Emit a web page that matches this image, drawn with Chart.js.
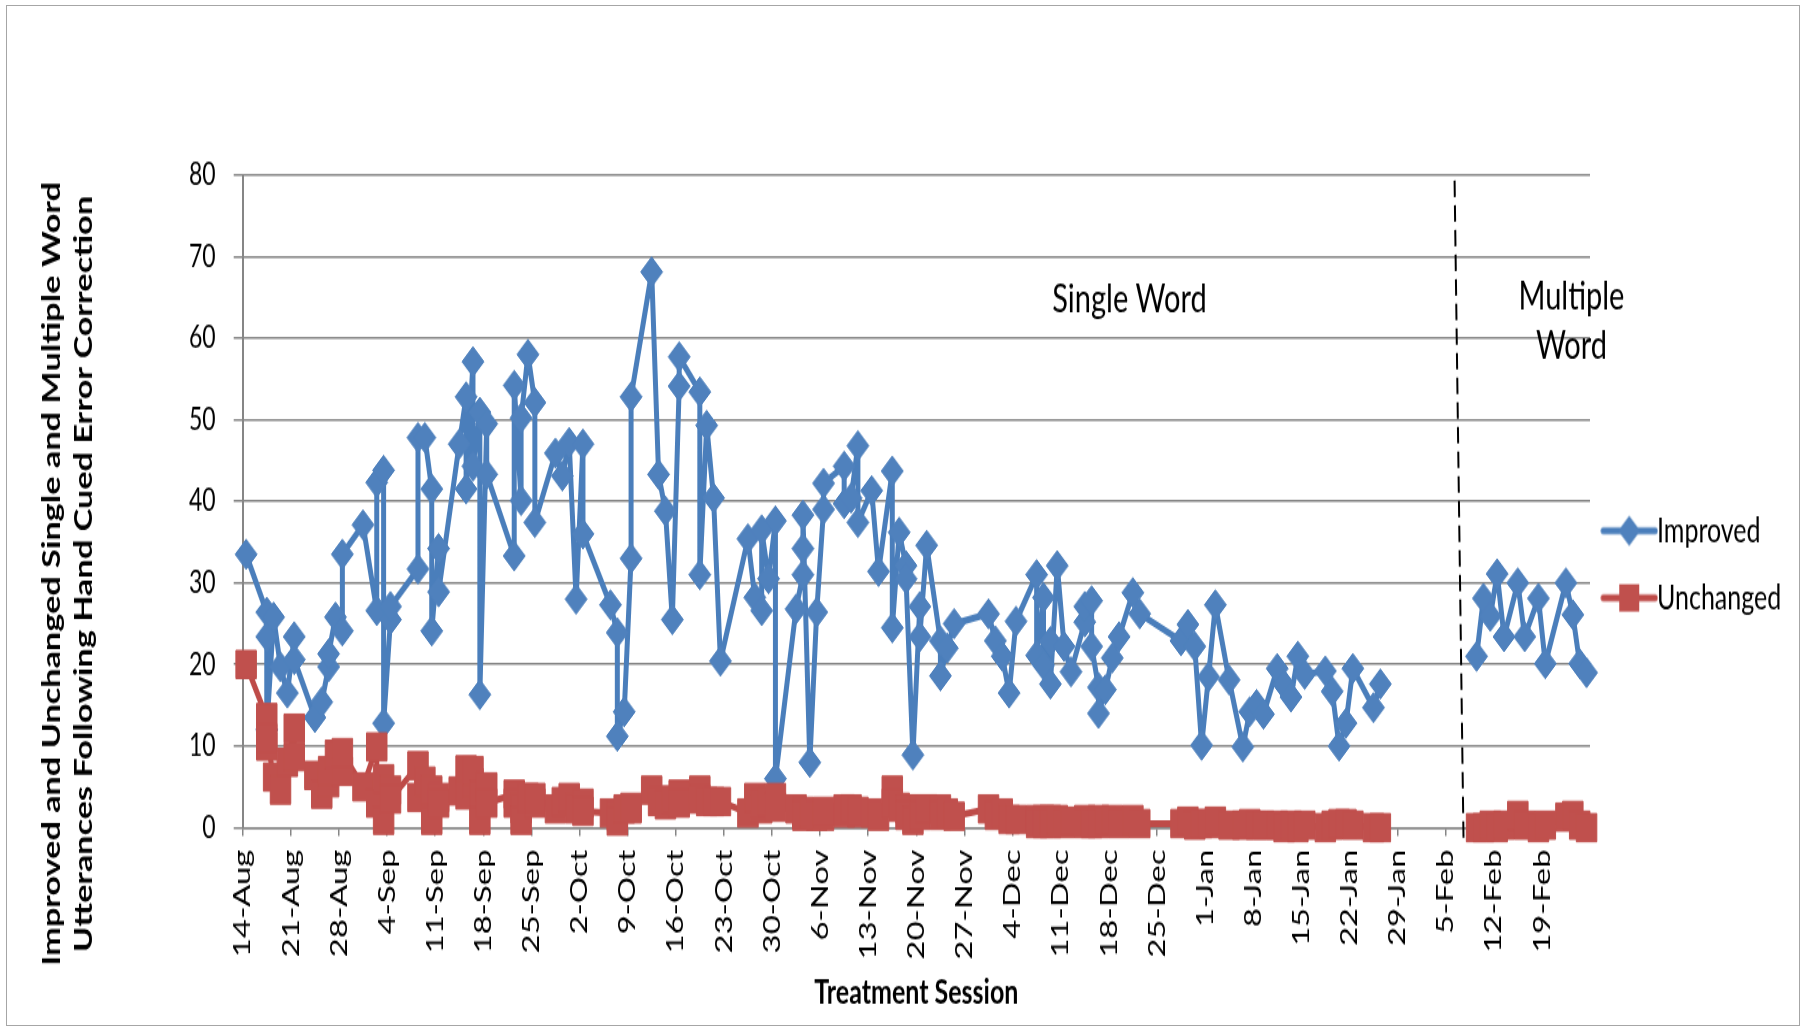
<!DOCTYPE html>
<html><head><meta charset="utf-8">
<script src="https://cdn.jsdelivr.net/npm/chart.js"></script>
<style>
html,body{margin:0;padding:0;background:#fff;}
body{width:1806px;height:1027px;overflow:hidden;position:relative;}
#stretch{position:absolute;left:0;top:0;width:1806px;height:750px;transform:scaleY(1.369333);transform-origin:0 0;}
#frame{position:absolute;left:6px;top:5px;width:1794px;height:1021px;border:1px solid #a6a6a6;box-sizing:border-box;pointer-events:none;}
canvas{display:block;}
</style></head><body>
<div id="stretch"><canvas id="c" width="1806" height="750"></canvas></div>
<div id="frame"></div>
<script>
// ---------------- data ----------------
const sessionDates = [
'14-Aug','17-Aug','17-Aug','17-Aug','18-Aug','19-Aug','20-Aug','21-Aug','21-Aug','24-Aug',
'25-Aug','26-Aug','26-Aug','27-Aug','28-Aug','28-Aug','31-Aug','2-Sep','2-Sep','3-Sep',
'3-Sep','4-Sep','4-Sep','8-Sep','8-Sep','9-Sep','10-Sep','10-Sep','11-Sep','11-Sep',
'14-Sep','15-Sep','15-Sep','16-Sep','16-Sep','17-Sep','17-Sep','18-Sep','18-Sep','22-Sep',
'22-Sep','23-Sep','23-Sep','24-Sep','25-Sep','25-Sep','28-Sep','29-Sep','30-Sep','1-Oct',
'2-Oct','2-Oct','6-Oct','7-Oct','7-Oct','8-Oct','9-Oct','9-Oct','12-Oct','13-Oct',
'14-Oct','15-Oct','16-Oct','16-Oct','19-Oct','19-Oct','20-Oct','21-Oct','22-Oct','26-Oct',
'27-Oct','28-Oct','28-Oct','29-Oct','30-Oct','30-Oct','2-Nov','3-Nov','3-Nov','3-Nov',
'4-Nov','5-Nov','6-Nov','6-Nov','9-Nov','9-Nov','10-Nov','11-Nov','11-Nov','13-Nov',
'14-Nov','16-Nov','16-Nov','17-Nov','18-Nov','18-Nov','19-Nov','20-Nov','20-Nov','21-Nov',
'23-Nov','23-Nov','24-Nov','25-Nov','30-Nov','1-Dec','2-Dec','3-Dec','4-Dec','7-Dec',
'7-Dec','8-Dec','8-Dec','9-Dec','9-Dec','10-Dec','11-Dec','12-Dec','14-Dec','14-Dec',
'15-Dec','15-Dec','16-Dec','16-Dec','17-Dec','18-Dec','19-Dec','21-Dec','22-Dec','28-Dec',
'29-Dec','30-Dec','31-Dec','1-Jan','2-Jan','4-Jan','6-Jan','7-Jan','8-Jan','9-Jan',
'11-Jan','12-Jan','13-Jan','14-Jan','15-Jan','18-Jan','19-Jan','20-Jan','21-Jan','22-Jan',
'25-Jan','26-Jan',
'9-Feb','10-Feb','11-Feb','12-Feb','13-Feb','15-Feb','16-Feb','18-Feb','19-Feb','22-Feb',
'23-Feb','24-Feb','25-Feb'
];
const improved = [
33.5,26.4,23.4,12.0,25.8,19.7,16.5,23.4,20.6,13.5,
15.4,19.7,21.3,25.8,24.1,33.5,37.1,26.6,42.3,43.8,
12.8,25.5,27.1,31.7,47.8,47.8,41.5,24.1,34.2,28.9,
47.0,52.8,41.5,57.1,44.3,50.9,16.3,49.5,43.3,33.3,
54.2,40.1,50.2,58.0,52.1,37.4,45.9,43.1,47.2,28.0,
47.0,36.0,27.3,23.9,11.2,14.2,33.0,52.8,68.1,43.3,
38.8,25.5,54.1,57.7,53.4,31.0,49.3,40.4,20.4,35.4,
28.2,26.6,36.5,30.5,37.6,6.0,26.8,31.0,34.2,38.3,
8.0,26.4,39.0,42.2,44.3,39.7,40.4,46.8,37.4,41.3,
31.4,43.7,24.5,36.2,32.1,30.5,8.9,27.1,23.4,34.6,
22.9,18.6,22.0,25.0,26.2,22.9,21.0,16.5,25.3,31.0,
21.1,28.2,19.9,22.8,17.6,32.1,22.2,19.1,25.2,27.1,
27.8,22.2,17.2,14.0,16.9,20.8,23.4,28.8,26.2,22.9,
24.9,22.2,10.1,18.5,27.3,18.1,9.9,14.2,15.1,13.9,
19.5,17.5,16.0,21.0,18.8,19.2,16.7,10.0,12.8,19.5,
14.7,17.6,
21.0,28.1,25.9,31.1,23.4,30.0,23.4,28.1,20.1,30.0,
26.1,20.1,19.0
];
const unchanged = [
20.0,13.5,10.0,11.0,6.2,4.6,8.0,12.2,8.7,6.4,
4.1,5.5,7.0,9.0,6.9,9.2,5.0,9.9,3.0,6.0,
0.9,4.6,3.5,7.6,3.7,5.7,4.6,0.9,3.7,3.0,
4.5,7.1,4.0,5.5,7.0,4.1,0.9,5.0,3.0,4.1,
3.0,2.3,0.9,3.7,3.0,3.7,2.3,3.2,3.7,2.3,
3.0,2.0,1.8,1.4,0.8,2.3,2.3,2.5,4.6,3.2,
2.8,3.4,4.1,3.0,4.6,3.5,3.2,3.2,3.2,1.8,
3.7,2.3,3.0,3.2,3.7,2.5,2.3,1.4,2.0,1.5,
1.8,1.4,1.4,2.0,2.3,1.8,2.3,1.8,2.0,1.8,
1.4,4.6,3.0,2.5,2.3,1.5,0.9,2.3,1.5,2.3,
2.3,1.5,1.8,1.4,2.3,1.5,1.8,1.0,1.0,1.0,
0.5,1.0,0.5,1.0,0.5,1.0,0.5,0.8,1.0,0.5,
0.8,0.5,1.0,0.5,0.8,1.0,0.5,1.0,0.5,0.5,
0.8,0.3,0.5,0.5,0.8,0.3,0.3,0.5,0.3,0.3,
0.3,0.0,0.3,0.0,0.3,0.0,0.3,0.5,0.5,0.3,
0.0,0.0,
0.0,0.0,0.3,0.0,0.3,1.5,0.3,0.0,0.3,1.3,
1.5,0.3,0.0
];
const xTickLabels = ['14-Aug','21-Aug','28-Aug','4-Sep','11-Sep','18-Sep','25-Sep','2-Oct','9-Oct','16-Oct',
'23-Oct','30-Oct','6-Nov','13-Nov','20-Nov','27-Nov','4-Dec','11-Dec','18-Dec','25-Dec',
'1-Jan','8-Jan','15-Jan','22-Jan','29-Jan','5-Feb','12-Feb','19-Feb'];
const axisEndDate = '26-Feb';
const yMax = 80, yStep = 10;
const seriesNames = ['Improved','Unchanged'];
const yTitleLines = ['Improved and Unchanged Single and Multiple Word','Utterances Following Hand Cued Error Correction'];
const xTitle = 'Treatment Session';
const multipleWordStart = '9-Feb';
const phaseText = {single: 'Single Word', multiple: ['Multiple','Word']};
// phase divider (hand-drawn dashed line, slightly slanted), in days from 14-Aug / value units
const phaseDivider = {topDay: 176.3, topVal: 79.3, bottomDay: 177.6, bottomVal: -1.4};

// ---------------- helpers ----------------
const MONTHS = {Aug:[2011,7],Sep:[2011,8],Oct:[2011,9],Nov:[2011,10],Dec:[2011,11],Jan:[2012,0],Feb:[2012,1]};
function dayIndex(s){const p=s.split('-');const m=MONTHS[p[1]];return Math.round((Date.UTC(m[0],m[1],+p[0])-Date.UTC(2011,7,14))/864e5);}
const origin = dayIndex(xTickLabels[0]);
const xMax = dayIndex(axisEndDate) - origin;
const sessionX = sessionDates.map(d => dayIndex(d) - origin + 0.5); // Excel plots a day at its centre
const breakIndex = sessionDates.indexOf(multipleWordStart);

const BLUE_LINE='#4A7EBB', BLUE='#4F81BD', RED_LINE='#BE4B48', RED='#C0504D', GRID='#868686';
const FONT='Lato';
const LINE_W=5;

function legendIcon(fill, line, shape){
  const c=document.createElement('canvas'); c.width=58; c.height=24;
  const g=c.getContext('2d');
  g.strokeStyle=line; g.lineWidth=LINE_W; g.lineCap='round';
  g.beginPath(); g.moveTo(3,12); g.lineTo(55,12); g.stroke();
  g.fillStyle=fill;
  if(shape==='diamond'){g.beginPath();g.moveTo(29,1);g.lineTo(40,12);g.lineTo(29,23);g.lineTo(18,12);g.closePath();g.fill();}
  else g.fillRect(19,2,20,20);
  return c;
}
const legendIcons=[legendIcon(BLUE,BLUE_LINE,'diamond'),legendIcon(RED,RED_LINE,'square')];

// layout targets (unscaled canvas px)
const PLOT_LEFT=242.7, PLOT_RIGHT=1589, PLOT_TOP=127.7, PLOT_BOTTOM=604.4, CANVAS_H=750, CANVAS_W=1806;
const LEG_FONT=25, LEG_PAD=24, LEG_BOX=30.5;
const mctx=document.createElement('canvas').getContext('2d');
mctx.font = LEG_FONT+'px '+FONT;
const legTextW=Math.max(...seriesNames.map(n=>mctx.measureText(n).width));
const legendW=LEG_PAD+LEG_BOX+LEG_FONT/2+legTextW;
const padRight=Math.max(0, CANVAS_W-PLOT_RIGHT-legendW-11);

const breakSeg = ctx => (ctx.p1DataIndex===breakIndex ? 'rgba(0,0,0,0)' : undefined);

const extraText = {
  id:'extraText',
  afterDraw(chart){
    const {ctx, chartArea, scales:{x,y}} = chart;
    ctx.save();
    ctx.fillStyle='#000'; ctx.textAlign='center'; ctx.textBaseline='middle';
    ctx.font='bold 25px '+FONT;
    const cy=(chartArea.top+chartArea.bottom)/2+53;
    yTitleLines.forEach((line,i)=>{
      ctx.save(); ctx.translate(chartArea.left-190.7+i*32, cy); ctx.rotate(-Math.PI/2);
      ctx.fillText(line,0,0); ctx.restore();
    });
    ctx.font='29px '+FONT;
    ctx.fillText(phaseText.single, x.getPixelForValue(129), y.getPixelForValue(64.8));
    ctx.fillText(phaseText.multiple[0], x.getPixelForValue(193.3), y.getPixelForValue(65.1));
    ctx.fillText(phaseText.multiple[1], x.getPixelForValue(193.3), y.getPixelForValue(59.1));
    ctx.restore();
  }
};

new Chart(document.getElementById('c'), {
  type:'line',
  data:{
    datasets:[
      {label:seriesNames[0], data:sessionX.map((v,i)=>({x:v,y:improved[i]})),
       borderColor:BLUE_LINE, backgroundColor:BLUE, borderWidth:LINE_W, borderJoinStyle:'round', borderCapStyle:'round',
       pointStyle:'rectRot', pointRadius:11, pointBackgroundColor:BLUE, pointBorderColor:BLUE, pointBorderWidth:1,
       tension:0, clip:false, order:1, segment:{borderColor:breakSeg}},
      {label:seriesNames[1], data:sessionX.map((v,i)=>({x:v,y:unchanged[i]})),
       borderColor:RED_LINE, backgroundColor:RED, borderWidth:LINE_W, borderJoinStyle:'round', borderCapStyle:'round',
       pointStyle:'rect', pointRadius:14.5, pointBackgroundColor:RED, pointBorderColor:RED, pointBorderWidth:1,
       tension:0, clip:false, order:0, segment:{borderColor:breakSeg}},
      {label:'divider', data:[{x:phaseDivider.topDay,y:phaseDivider.topVal},{x:phaseDivider.bottomDay,y:phaseDivider.bottomVal}],
       borderColor:'#000', borderWidth:2, borderDash:[12,6], pointRadius:0, clip:false, order:2}
    ]
  },
  options:{
    responsive:false, animation:false, events:[], devicePixelRatio:1,
    layout:{padding:{left:0, top:PLOT_TOP, right:padRight, bottom:0}},
    plugins:{
      tooltip:{enabled:false},
      legend:{
        position:'right', align:'start',
        title:{display:true, text:' ', font:{size:10, lineHeight:1}, padding:{top:0,bottom:213.4}},
        labels:{
          usePointStyle:true, pointStyleWidth:LEG_BOX, padding:LEG_PAD, color:'#000',
          font:{family:FONT, size:LEG_FONT},
          generateLabels(chart){
            const items=Chart.defaults.plugins.legend.labels.generateLabels(chart);
            items.forEach(it=>{ if(it.datasetIndex<2) it.pointStyle=legendIcons[it.datasetIndex]; });
            return items;
          },
          filter:item=>item.datasetIndex<2,
          sort:(a,b)=>a.datasetIndex-b.datasetIndex
        }
      }
    },
    scales:{
      x:{
        type:'linear', min:0, max:xMax,
        afterFit(s){ s.height = CANVAS_H-PLOT_BOTTOM; },
        ticks:{stepSize:7, autoSkip:false, minRotation:90, maxRotation:90, padding:10, color:'#000',
               font:{family:FONT, size:24},
               callback:v=>xTickLabels[Math.round(v/7)]||''},
        grid:{drawOnChartArea:false, color:GRID, lineWidth:1.5, tickLength:6},
        border:{color:GRID, width:1.5},
        title:{display:true, text:xTitle, color:'#000', font:{family:FONT, size:25, weight:'bold'}, padding:{top:0,bottom:10}}
      },
      y:{
        min:0, max:yMax,
        afterFit(s){ s.width = PLOT_LEFT; },
        ticks:{stepSize:yStep, padding:18, color:'#000', font:{family:FONT, size:23}},
        grid:{color:GRID, lineWidth:1.5, tickLength:9},
        border:{color:GRID, width:2}
      }
    }
  },
  plugins:[extraText]
});
</script>
</body></html>
